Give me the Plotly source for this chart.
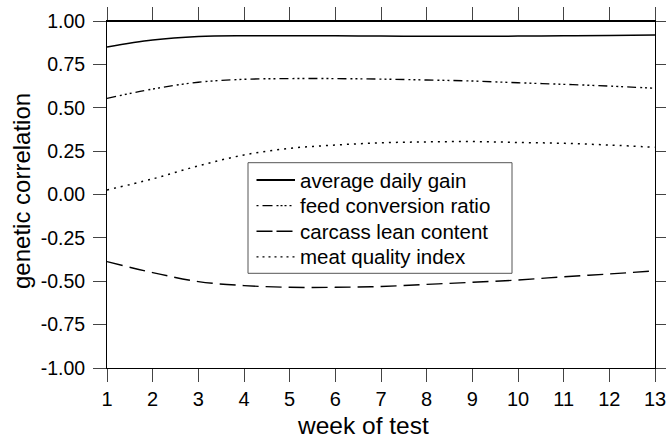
import plotly.graph_objects as go

weeks = list(range(1, 14))
avg_daily_gain = [0.85, 0.89, 0.91, 0.915, 0.915, 0.915, 0.913, 0.912, 0.912, 0.913, 0.915, 0.917, 0.92]
feed_conversion = [0.554, 0.608, 0.647, 0.664, 0.668, 0.668, 0.665, 0.66, 0.654, 0.644, 0.635, 0.625, 0.612]
carcass_lean = [-0.387, -0.45, -0.502, -0.525, -0.535, -0.535, -0.53, -0.518, -0.506, -0.493, -0.474, -0.458, -0.44]
meat_quality = [0.026, 0.09, 0.165, 0.228, 0.266, 0.285, 0.298, 0.303, 0.305, 0.30, 0.295, 0.285, 0.272]

series_names = ["average daily gain", "feed conversion ratio", "carcass lean content", "meat quality index"]
y_tickvals = [-1.0, -0.75, -0.5, -0.25, 0.0, 0.25, 0.5, 0.75, 1.0]
y_ticktext = ["-1.00", "-0.75", "-0.50", "-0.25", "0.00", "0.25", "0.50", "0.75", "1.00"]
x_title = "week of test"
y_title = "genetic correlation"

dashes = ["solid", "9px,4px,2px,3px,2px,3px,2px,4px", "16px,7px", "2px,5px"]
widths = [1.5, 1.4, 1.4, 1.5]
legend_dashes = ["solid", "2px,4px,10px,4px,2px,2px,2px,2px,2px,3px", "16px,4px", "2px,4px"]
legend_widths = [2.2, 1.2, 1.4, 1.2]

W, H = 666, 441
ML, MR, MT, MB = 107, 11, 21, 73
PW, PH = W - ML - MR, H - MT - MB

def px_x(v):
    return (v - ML) / PW

def px_y(v):
    return 1 - (v - MT) / PH

fig = go.Figure()
for name, ys, d, w in zip(series_names, [avg_daily_gain, feed_conversion, carcass_lean, meat_quality], dashes, widths):
    fig.add_trace(go.Scatter(x=weeks, y=ys, mode="lines", name=name,
                             line=dict(shape="spline", color="black", width=w, dash=d),
                             showlegend=False))

font = "Liberation Sans, Arial, sans-serif"
fig.update_layout(
    width=W, height=H,
    margin=dict(l=ML, r=MR, t=MT, b=MB),
    paper_bgcolor="white", plot_bgcolor="white",
    font=dict(family=font, size=20, color="black"),
    showlegend=False,
    xaxis=dict(
        range=[1, 13], tickvals=weeks, ticks="outside", ticklen=13, tickcolor="#444",
        showline=True, linecolor="black", linewidth=1, mirror="allticks",
        showgrid=False, zeroline=False, automargin=False,
        ticklabeloverflow="allow",
        tickfont=dict(size=20),
    ),
    yaxis=dict(
        range=[-1, 1], tickvals=y_tickvals, ticktext=y_ticktext,
        ticks="outside", ticklen=13, tickcolor="#444",
        showline=True, linecolor="black", linewidth=1, mirror="allticks",
        showgrid=False, zeroline=False, automargin=False,
        ticklabeloverflow="allow", ticklabelstandoff=4,
        tickfont=dict(size=19.5),
    ),
)
# axis titles
fig.add_annotation(text=x_title, xref="paper", yref="paper", x=px_x(362.5), y=px_y(425),
                   xanchor="center", yanchor="middle", showarrow=False, font=dict(size=24.5))
fig.add_annotation(text=y_title, xref="paper", yref="paper", x=px_x(22), y=px_y(191),
                   xanchor="center", yanchor="middle", showarrow=False, textangle=-90,
                   font=dict(size=24))
# heavier top frame line
fig.add_shape(type="line", xref="paper", yref="paper", x0=0, x1=1, y0=1, y1=1,
              line=dict(color="black", width=2))
# legend box
fig.add_shape(type="rect", xref="paper", yref="paper",
              x0=px_x(248), x1=px_x(512), y0=px_y(273.3), y1=px_y(162.7),
              fillcolor="white", line=dict(color="#555", width=1), layer="above")
rows = [180, 205.6, 231.2, 256.8]
for name, ry, d, w in zip(series_names, rows, legend_dashes, legend_widths):
    fig.add_shape(type="line", xref="paper", yref="paper",
                  x0=px_x(256.5), x1=px_x(295), y0=px_y(ry), y1=px_y(ry),
                  line=dict(color="black", width=w, dash=d), layer="above")
    fig.add_annotation(text=name, xref="paper", yref="paper", x=px_x(297.5), y=px_y(ry),
                       xanchor="left", yanchor="middle", showarrow=False,
                       font=dict(size=20.5))
fig.write_html("out.html")
